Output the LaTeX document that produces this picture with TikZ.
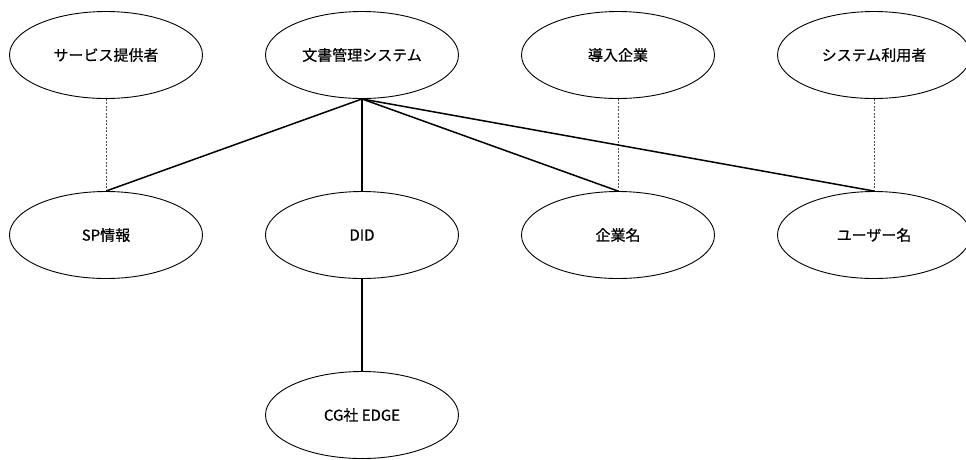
\documentclass[tikz,border=0pt]{standalone}
\usepackage{fontspec}
\setmainfont{Noto Sans CJK JP}[FakeBold=0.6]
\usetikzlibrary{shapes.geometric}
\begin{document}
\begin{tikzpicture}[x=1pt,y=-1pt,
  entity/.style={draw, line width=0.9pt, ellipse, minimum width=193pt, minimum height=87pt,
    inner sep=0pt, font=\fontsize{15pt}{17pt}\selectfont},
  link/.style={line width=1.5pt},
  trace/.style={draw=black!70, line width=0.5pt, dash pattern=on 2pt off 1.5pt}]
  \useasboundingbox (0,0) rectangle (966,459);
  % top row: actors and the system
  \node[entity] (svc) at (106,55) {サービス提供者};
  \node[entity] (sys) at (362,55) {文書管理システム};
  \node[entity] (ent) at (618,55) {導入企業};
  \node[entity] (usr) at (874,55) {システム利用者};
  % middle row: attributes
  \node[entity] (sp)  at (106,235) {SP情報};
  \node[entity] (did) at (362,235) {DID};
  \node[entity] (cn)  at (618,235) {企業名};
  \node[entity] (un)  at (874,235) {ユーザー名};
  % bottom row
  \node[entity] (cg)  at (362,415) {CG社 EDGE};
  % ownership traces
  \draw[trace] (svc.south) -- (sp.north);
  \draw[trace] (ent.south) -- (cn.north);
  \draw[trace] (usr.south) -- (un.north);
  % system links
  \draw[link] (sys.south) -- (sp.north);
  \draw[link] (sys.south) -- (did.north);
  \draw[link] (sys.south) -- (cn.north);
  \draw[link] (sys.south) -- (un.north);
  \draw[link] (did.south) -- (cg.north);
\end{tikzpicture}
\end{document}
